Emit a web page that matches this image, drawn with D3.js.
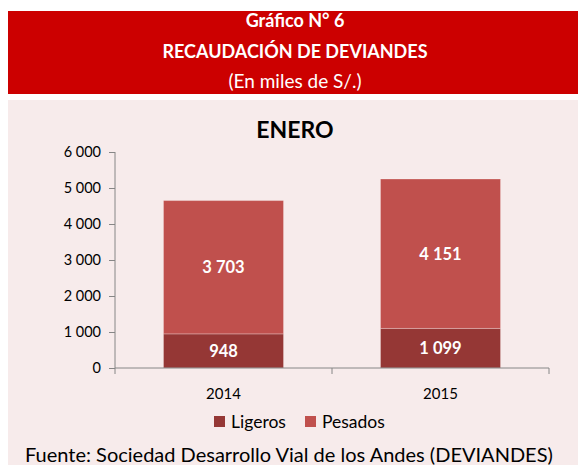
<!DOCTYPE html>
<html><head><meta charset="utf-8">
<script src="https://cdn.jsdelivr.net/npm/d3@7"></script>
<style>
html,body{margin:0;padding:0;background:#fff;}
svg{display:block;font-family:Lato,"Open Sans",sans-serif;}
</style></head>
<body>
<svg id="chart" width="578" height="465"></svg>
<script>
const categories = ["2014", "2015"];
const ligeros = [948, 1099];
const pesados = [3703, 4151];
const seriesNames = ["Ligeros", "Pesados"];
const yTicks = [0, 1000, 2000, 3000, 4000, 5000, 6000];
const titleLines = ["Gráfico N° 6", "RECAUDACIÓN DE DEVIANDES", "(En miles de S/.)"];
const chartTitle = "ENERO";
const sourceText = "Fuente: Sociedad Desarrollo Vial de los Andes (DEVIANDES)";

const colors = {Ligeros: "#953735", Pesados: "#C0504D"};
const loc = d3.formatLocale({decimal: ",", thousands: " ", grouping: [3], currency: ["", ""]});
const fmt = loc.format(",d");

const svg = d3.select("#chart");

// header
svg.append("rect").attr("x", 8).attr("y", 11).attr("width", 570).attr("height", 83).attr("fill", "#CC0000");
const hx = 295;
svg.append("text").attr("x", hx).attr("y", 27).attr("text-anchor", "middle")
  .attr("fill", "#fff").attr("font-weight", "bold").attr("font-size", 18).text(titleLines[0]);
svg.append("text").attr("x", hx).attr("y", 58).attr("text-anchor", "middle")
  .attr("fill", "#fff").attr("font-weight", "bold").attr("font-size", 18).text(titleLines[1]);
svg.append("text").attr("x", hx).attr("y", 88).attr("text-anchor", "middle")
  .attr("fill", "#fff").attr("font-size", 19).text(titleLines[2]);

// panel
svg.append("rect").attr("x", 8).attr("y", 100).attr("width", 570).attr("height", 365).attr("fill", "#F7EBEB");

svg.append("text").attr("x", 295).attr("y", 138).attr("text-anchor", "middle")
  .attr("fill", "#000").attr("font-weight", "bold").attr("font-size", 23).text(chartTitle);

const x = d3.scaleBand().domain(categories).range([115, 549]).paddingInner(0.447).paddingOuter(0.2235);
const y = d3.scaleLinear().domain([0, 6000]).range([368, 152]);

const data = categories.map((c, i) => ({cat: c, Ligeros: ligeros[i], Pesados: pesados[i]}));
const stacked = d3.stack().keys(seriesNames)(data);

const g = svg.append("g");
stacked.forEach(layer => {
  g.selectAll(null).data(layer).enter().append("rect")
    .attr("x", d => x(d.data.cat))
    .attr("width", x.bandwidth())
    .attr("y", d => y(d[1]))
    .attr("height", d => y(d[0]) - y(d[1]))
    .attr("fill", colors[layer.key])
    .attr("stroke", "rgba(255,255,255,0.25)")
    .attr("stroke-width", 1);
  g.selectAll(null).data(layer).enter().append("text")
    .attr("x", d => x(d.data.cat) + x.bandwidth() / 2)
    .attr("y", d => (y(d[0]) + y(d[1])) / 2 + 6)
    .attr("text-anchor", "middle").attr("fill", "#fff")
    .attr("font-weight", "bold").attr("font-size", 16.5)
    .text(d => fmt(d[1] - d[0]));
});

// y axis
const yAxis = d3.axisLeft(y).tickValues(yTicks).tickFormat(fmt).tickSize(6).tickPadding(8);
const ya = svg.append("g").attr("transform", "translate(115,0)").call(yAxis);
ya.select(".domain").attr("stroke", "#868686").attr("d", "M0,152V368");
ya.selectAll(".tick line").attr("stroke", "#868686");
ya.selectAll(".tick text").attr("font-size", 14.5).attr("fill", "#000").attr("font-family", "Lato,sans-serif");

// x axis
const xa = svg.append("g").attr("transform", "translate(0,368)");
xa.append("line").attr("x1", 115).attr("x2", 549).attr("y1", 0).attr("y2", 0).attr("stroke", "#868686");
const bounds = [115, (x("2014") + x.bandwidth() + x("2015")) / 2, 549];
xa.selectAll(null).data(bounds).enter().append("line")
  .attr("x1", d => d).attr("x2", d => d).attr("y1", 0).attr("y2", 6).attr("stroke", "#868686");
xa.selectAll(null).data(categories).enter().append("text")
  .attr("x", d => x(d) + x.bandwidth() / 2).attr("y", 31)
  .attr("text-anchor", "middle").attr("font-size", 15).attr("fill", "#000").text(d => d);

// legend
const legX = [214, 305];
const lg = svg.append("g");
seriesNames.forEach((s, i) => {
  lg.append("rect").attr("x", legX[i]).attr("y", 416).attr("width", 11).attr("height", 11).attr("fill", colors[s]);
  lg.append("text").attr("x", legX[i] + 17).attr("y", 428).attr("font-size", 17.5).attr("fill", "#000").text(s);
});

svg.append("text").attr("x", 25).attr("y", 462).attr("font-size", 20).attr("fill", "#000").text(sourceText);
</script>
</body></html>
